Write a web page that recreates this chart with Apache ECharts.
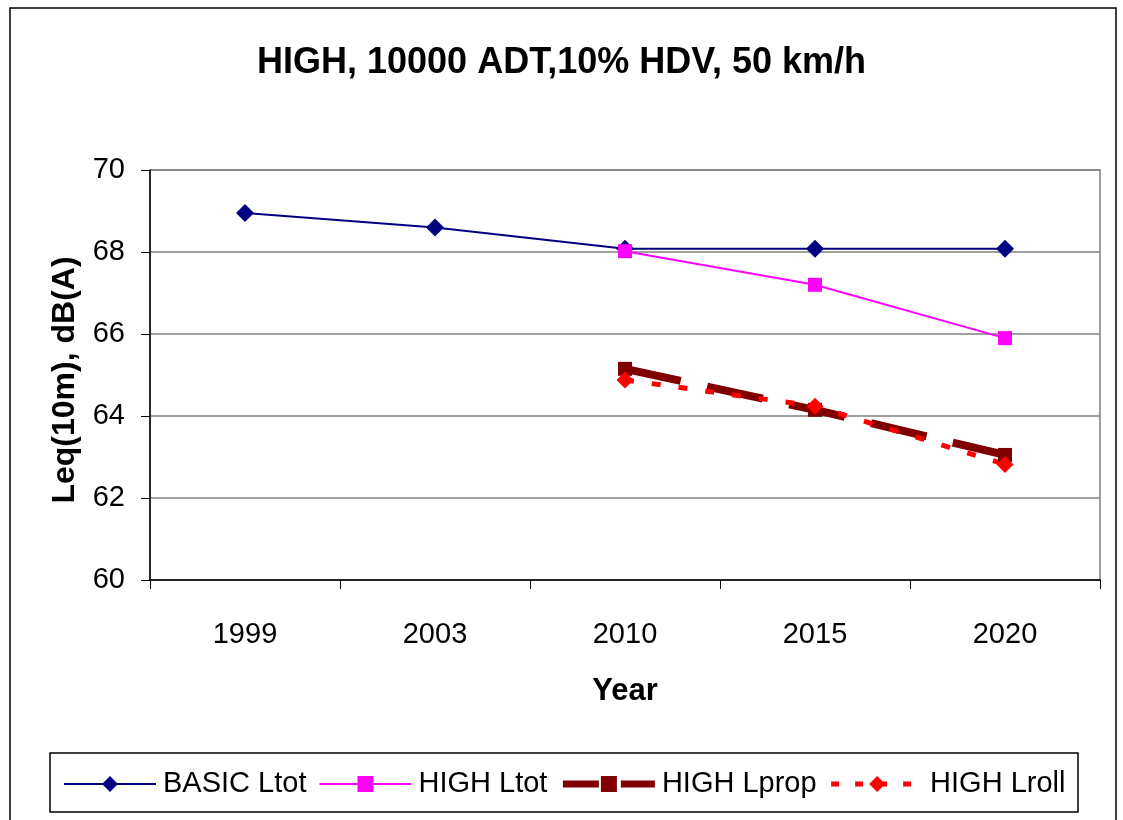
<!DOCTYPE html>
<html>
<head>
    <title>HIGH, 10000 ADT,10% HDV, 50 km/h</title>
    <script src="https://cdn.jsdelivr.net/npm/echarts@6/dist/echarts.min.js"></script>
    <style>
        body {
            margin: 0;
            padding: 0;
            background-color: #ffffff;
        }

        #chart {
            width: 1123px;
            height: 820px;
        }
    </style>
</head>
<body>
    <div id="chart"></div>

    <script>
        // data
        var years = ['1999', '2003', '2010', '2015', '2020'];
        var basicLtot = [68.95, 68.6, 68.08, 68.08, 68.08];
        var highLtot = [null, null, 68.02, 67.2, 65.9];
        var highLprop = [null, null, 65.15, 64.15, 63.05];
        var highLroll = [null, null, 64.88, 64.24, 62.82];

        var font = 'Liberation Sans, Arial, sans-serif';

        var chart = echarts.init(document.getElementById('chart'));

        var option = {
            animation: false,
            backgroundColor: '#ffffff',
            textStyle: { fontFamily: font },
            title: {
                text: 'HIGH, 10000 ADT,10% HDV, 50 km/h',
                left: 'center',
                top: 27,
                textStyle: {
                    fontFamily: font,
                    fontSize: 36,
                    fontWeight: 'bold',
                    color: '#000'
                }
            },
            graphic: [
                {
                    type: 'rect',
                    shape: { x: 10, y: 8, width: 1106, height: 840 },
                    style: { fill: 'none', stroke: '#000', lineWidth: 1.5 },
                    silent: true
                },
                {
                    type: 'rect',
                    shape: { x: 50, y: 753, width: 1028, height: 59 },
                    style: { fill: 'none', stroke: '#000', lineWidth: 1.5 },
                    silent: true
                },
                // y axis title, placed by hand (axis name kept drifting left)
                {
                    type: 'text',
                    x: 65,
                    y: 380,
                    rotation: Math.PI / 2,
                    style: {
                        text: 'Leq(10m), dB(A)',
                        fontFamily: font,
                        fontSize: 32,
                        fontWeight: 'bold',
                        fill: '#000',
                        align: 'center',
                        verticalAlign: 'middle'
                    },
                    silent: true
                }
            ],
            legend: {
                left: 58,
                top: 754,
                itemWidth: 92,
                itemHeight: 20,
                itemGap: 12,
                textStyle: { fontFamily: font, fontSize: 29, color: '#000', padding: [0, 0, 0, 2] },
                data: [
                    'BASIC Ltot',
                    'HIGH Ltot',
                    { name: 'HIGH Lprop', lineStyle: { width: 7, type: [36, 22] } },
                    { name: 'HIGH Lroll', lineStyle: { width: 5, type: [8, 16] } }
                ]
            },
            grid: {
                left: 150,
                right: 23,
                top: 170,
                bottom: 240,
                show: true,
                borderColor: '#808080',
                borderWidth: 1.5
            },
            xAxis: {
                type: 'category',
                data: years,
                boundaryGap: true,
                name: 'Year',
                nameLocation: 'middle',
                nameGap: 85,
                nameTextStyle: { fontFamily: font, fontSize: 31, fontWeight: 'bold', color: '#000' },
                axisLine: { lineStyle: { color: '#000', width: 1.5 } },
                axisTick: { show: true, interval: 0, length: 9, lineStyle: { color: '#000' } },
                axisLabel: { fontFamily: font, fontSize: 29, color: '#000', margin: 30 }
            },
            yAxis: {
                type: 'value',
                min: 60,
                max: 70,
                interval: 2,
                axisLine: { show: true, lineStyle: { color: '#000', width: 1.5 } },
                axisTick: { show: true, length: 9, lineStyle: { color: '#000' } },
                axisLabel: { fontFamily: font, fontSize: 29, color: '#000', margin: 25 },
                splitLine: { show: true, lineStyle: { color: '#808080', width: 1.5 } }
            },
            series: [
                {
                    name: 'BASIC Ltot',
                    type: 'line',
                    data: basicLtot,
                    symbol: 'diamond',
                    symbolSize: 18,
                    itemStyle: { color: '#000080' },
                    lineStyle: { color: '#000080', width: 2 }
                },
                {
                    name: 'HIGH Ltot',
                    type: 'line',
                    data: highLtot,
                    symbol: 'rect',
                    symbolSize: 14,
                    itemStyle: { color: '#ff00ff' },
                    lineStyle: { color: '#ff00ff', width: 2 }
                },
                {
                    name: 'HIGH Lprop',
                    type: 'line',
                    data: highLprop,
                    symbol: 'rect',
                    symbolSize: 14,
                    itemStyle: { color: '#800000' },
                    lineStyle: { color: '#800000', width: 8, type: [57, 27] }
                },
                {
                    name: 'HIGH Lroll',
                    type: 'line',
                    data: highLroll,
                    symbol: 'diamond',
                    symbolSize: 17,
                    itemStyle: { color: '#ff0000' },
                    lineStyle: { color: '#ff0000', width: 5, type: [9, 18] }
                }
            ]
        };

        chart.setOption(option);
    </script>
</body>
</html>
